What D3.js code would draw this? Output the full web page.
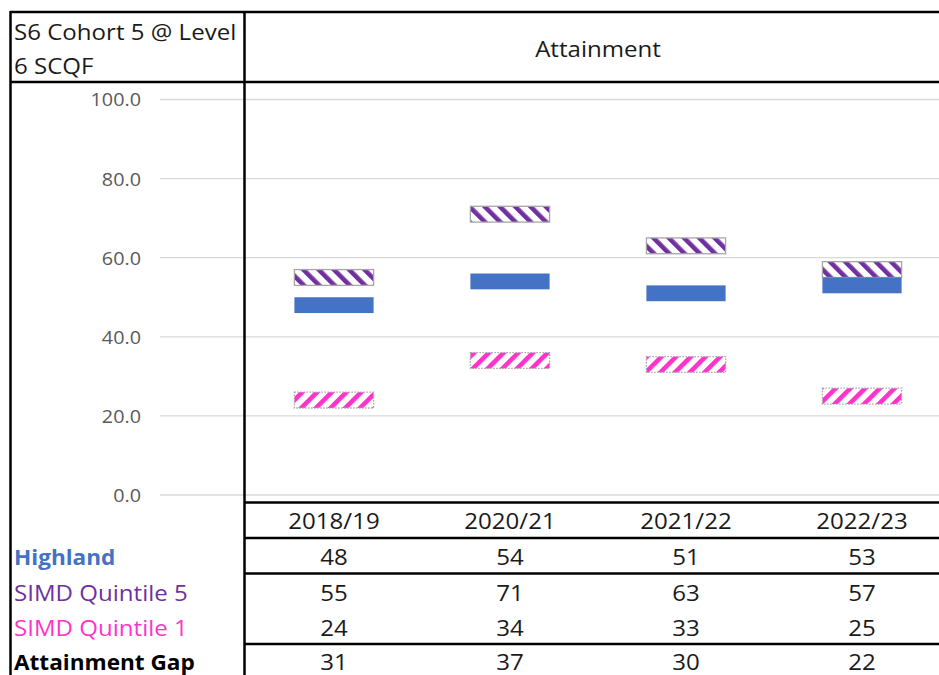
<!DOCTYPE html>
<html><head><meta charset="utf-8">
<script src="https://cdn.jsdelivr.net/npm/d3@7"></script>
<style>html,body{margin:0;padding:0;background:#fff;overflow:hidden}</style>
</head><body>
<svg id="c" width="939" height="675"></svg>
<script>
const years = ["2018/19","2020/21","2021/22","2022/23"];
const highland = [48,54,51,53];
const quintile5 = [55,71,63,57];
const quintile1 = [24,34,33,25];
const attainmentGap = [31,37,30,22];
const yTicks = [0,20,40,60,80,100];
const rowLabels = ["Highland","SIMD Quintile 5","SIMD Quintile 1","Attainment Gap"];
const titleLines = ["S6 Cohort 5 @ Level","6 SCQF"];
const headerText = "Attainment";

const FONT = "'Open Sans', Lato, sans-serif";
const svg = d3.select("#c");
const defs = svg.append("defs");

function stripes(id, color, angle, period, w) {
  const p = defs.append("pattern").attr("id", id).attr("patternUnits","userSpaceOnUse")
    .attr("width", period).attr("height", period)
    .attr("patternTransform", `rotate(${angle})`);
  p.append("rect").attr("width", period).attr("height", period).attr("fill","#fff");
  p.append("rect").attr("width", w).attr("height", period).attr("fill", color);
}
stripes("pq5", "#7030A0", -45, 10.8, 4.6);
stripes("pq1", "#FF33CC", 45, 10.4, 4.6);

const x = d3.scaleBand().domain(years).range([246, 950]).paddingInner(0.55).paddingOuter(0.275);
const y = d3.scaleLinear().domain([0, 100]).range([495, 99.5]);

// gridlines
svg.append("g").selectAll("line").data(yTicks).join("line")
  .attr("x1",160).attr("x2",939).attr("y1",d=>y(d)).attr("y2",d=>y(d))
  .attr("stroke","#d9d9d9").attr("stroke-width",1.3);
// y axis
const yAxis = d3.axisLeft(y).tickValues(yTicks).tickFormat(d3.format(".1f")).tickSize(0).tickPadding(0);
const ga = svg.append("g").attr("transform","translate(141,0)").call(yAxis);
ga.select(".domain").remove();
ga.selectAll(".tick line").remove();
ga.selectAll("text").attr("font-family", FONT).attr("font-size", 18.5).attr("fill","#595959")
  .attr("x",null).attr("dy","0.35em").attr("transform","scale(1.07,1)");

// floating bars
const half = 2;
const plot = svg.append("g");
function bars(vals, fill, stroke, dash) {
  plot.append("g").selectAll("rect").data(vals).join("rect")
    .attr("x",(d,i)=>x(years[i])).attr("width",x.bandwidth())
    .attr("y",d=>y(d+half)).attr("height",d=>y(d-half)-y(d+half))
    .attr("fill",fill).attr("stroke",stroke).attr("stroke-width",stroke==="none"?0:1.3)
    .attr("stroke-dasharray",dash);
}
bars(quintile1, "url(#pq1)", "#a6a6a6", "1.5,1.5");
bars(quintile5, "url(#pq5)", "#a6a6a6", null);
bars(highland, "#4472C4", "none", null);

// table lines
const L = (x1,y1,x2,y2)=>svg.append("line").attr("x1",x1).attr("y1",y1).attr("x2",x2).attr("y2",y2)
  .attr("stroke","#000").attr("stroke-width",2.5);
L(10,12,939,12);
L(10.5,11,10.5,675);
L(244.5,11,244.5,675);
L(10,82,939,82);
const hLines = [502.5, 538, 573.5, 644];
hLines.forEach(v=>L(244,v,939,v));

const FS = 21.5;
function txt(g, xx, yy, s, anchor, color, weight) {
  const sx = weight === "bold" ? 1.05 : 1.12;
  g.append("text").attr("transform",`translate(${xx},${yy}) scale(${sx},1)`)
    .attr("text-anchor",anchor).text(s)
    .attr("font-family",FONT).attr("font-size",FS).attr("fill",color).attr("font-weight",weight||"normal");
}
const tg = svg.append("g");
titleLines.forEach((s,i)=>txt(tg, 14, 40+i*34, s, "start", "#1a1a1a"));
txt(tg, 598, 57, headerText, "middle", "#1a1a1a");
years.forEach(d=>txt(tg, x(d)+x.bandwidth()/2, 529, d, "middle", "#1a1a1a"));

const rows = [highland, quintile5, quintile1, attainmentGap];
const rowY = [565, 601, 636, 670];
const rowColor = ["#4472C4","#7030A0","#FF33CC","#000"];
const rowWeight = ["bold","normal","normal","bold"];
rowLabels.forEach((s,i)=>txt(tg, 14, rowY[i], s, "start", rowColor[i], rowWeight[i]));
rows.forEach((r,ri)=>r.forEach((v,i)=>txt(tg, x(years[i])+x.bandwidth()/2, rowY[ri], v, "middle", "#1a1a1a")));
</script>
</body></html>
